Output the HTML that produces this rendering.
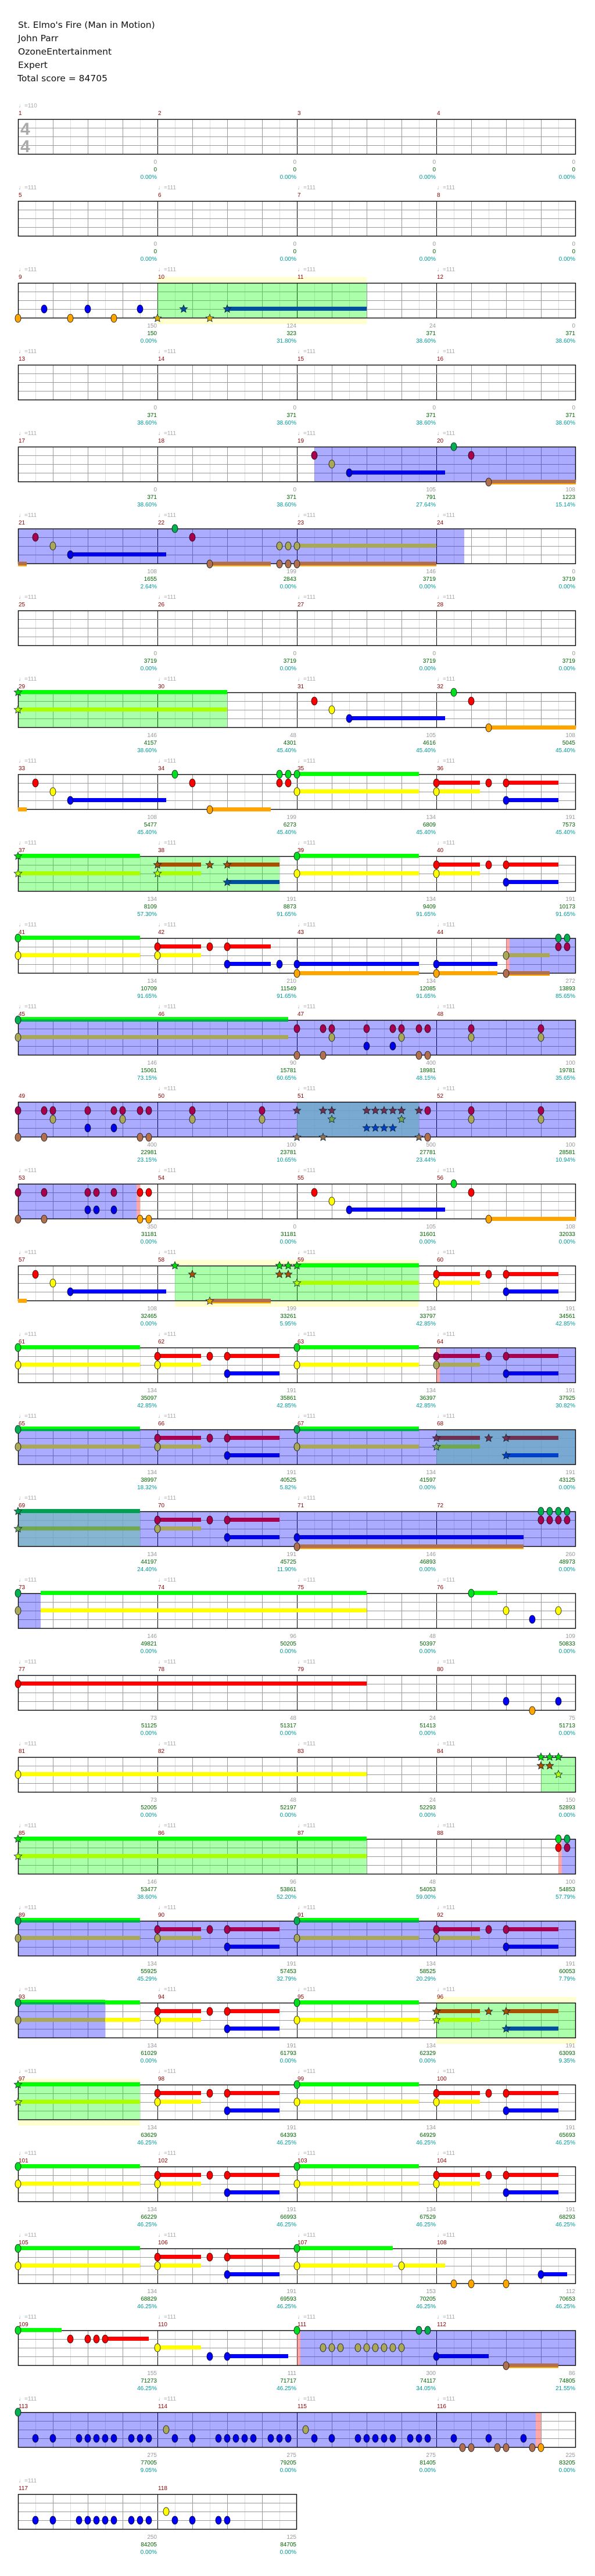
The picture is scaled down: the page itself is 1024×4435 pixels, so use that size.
<!DOCTYPE html>
<html><head><meta charset="utf-8">
<style>
html,body{margin:0;padding:0;background:#fff;}
body{width:1024px;height:4435px;overflow:hidden;}
svg{display:block;}
.h{font-family:"DejaVu Sans","Liberation Sans",sans-serif;font-size:15.5px;fill:#111;}
.t{font-family:"Liberation Sans",sans-serif;font-size:10px;fill:#aaa;}
.m{font-family:"Liberation Sans",sans-serif;font-size:10px;fill:#8b0000;}
.g{font-family:"Liberation Sans",sans-serif;font-size:10px;fill:#999;}
.s{font-family:"Liberation Sans",sans-serif;font-size:10px;fill:#006400;}
.p{font-family:"Liberation Sans",sans-serif;font-size:10px;fill:#009999;}
</style></head><body>
<svg id="sv" xmlns="http://www.w3.org/2000/svg" width="1024" height="4435" viewBox="0 0 1024 4435">
<text class="h" x="31" y="48">St. Elmo's Fire (Man in Motion)</text>
<text class="h" x="31" y="71">John Parr</text>
<text class="h" x="31" y="94">OzoneEntertainment</text>
<text class="h" x="31" y="117">Expert</text>
<text class="h" x="30" y="140">Total score = 84705</text>
</svg>
<script>
(function(){
var sv=document.getElementById('sv');
var out=[];
function X(u){return 31+u*15;}
var STATS="0,0,0.00%|0,0,0.00%|0,0,0.00%|0,0,0.00%|0,0,0.00%|0,0,0.00%|0,0,0.00%|0,0,0.00%|150,150,0.00%|124,323,31.80%|24,371,38.60%|0,371,38.60%|0,371,38.60%|0,371,38.60%|0,371,38.60%|0,371,38.60%|0,371,38.60%|0,371,38.60%|105,791,27.64%|108,1223,15.14%|108,1655,2.64%|199,2843,0.00%|146,3719,0.00%|0,3719,0.00%|0,3719,0.00%|0,3719,0.00%|0,3719,0.00%|0,3719,0.00%|146,4157,38.60%|48,4301,45.40%|105,4616,45.40%|108,5045,45.40%|108,5477,45.40%|199,6273,45.40%|134,6809,45.40%|191,7573,45.40%|134,8109,57.30%|191,8873,91.65%|134,9409,91.65%|191,10173,91.65%|134,10709,91.65%|210,11549,91.65%|134,12085,91.65%|272,13893,85.65%|146,15061,73.15%|90,15781,60.65%|400,18981,48.15%|100,19781,35.65%|400,22981,23.15%|100,23781,10.65%|500,27781,23.44%|100,28581,10.94%|350,31181,0.00%|0,31181,0.00%|105,31601,0.00%|108,32033,0.00%|108,32465,0.00%|199,33261,5.95%|134,33797,42.85%|191,34561,42.85%|134,35097,42.85%|191,35861,42.85%|134,36397,42.85%|191,37925,30.82%|134,38997,18.32%|191,40525,5.82%|134,41597,0.00%|191,43125,0.00%|134,44197,24.40%|191,45725,11.90%|146,46893,0.00%|260,48973,0.00%|146,49821,0.00%|96,50205,0.00%|48,50397,0.00%|109,50833,0.00%|73,51125,0.00%|48,51317,0.00%|24,51413,0.00%|75,51713,0.00%|73,52005,0.00%|48,52197,0.00%|24,52293,0.00%|150,52893,0.00%|146,53477,38.60%|96,53861,52.20%|48,54053,59.00%|100,54853,57.79%|134,55925,45.29%|191,57453,32.79%|134,58525,20.29%|191,60053,7.79%|134,61029,0.00%|191,61793,0.00%|134,62329,0.00%|191,63093,9.35%|134,63629,46.25%|191,64393,46.25%|134,64929,46.25%|191,65693,46.25%|134,66229,46.25%|191,66993,46.25%|134,67529,46.25%|191,68293,46.25%|134,68829,46.25%|191,69593,46.25%|153,70205,46.25%|112,70653,46.25%|155,71273,46.25%|111,71717,46.25%|300,74117,34.05%|86,74805,21.55%|275,77005,9.05%|275,79205,0.00%|275,81405,0.00%|225,83205,0.00%|250,84205,0.00%|125,84705,0.00%".split('|');
var A="R16-21 R22 R24-30 Y16-21 B24-30 ";
var Bq="G32-46 Y32-46 ";
var C="R48-53 R54 R56-62 Y48-53 B56-62";
var R=[
 {o:[],n:""},{o:[],n:""},
 {o:[['G',16,40,1]],n:"O0 B3 O6 B8 O11 B14 @s O16 B19 O22 B24-40"},
 {o:[],n:""},
 {o:[['P',34,64]],n:"@p R34 Y36 B38-49 G50 R52 O54-64"},
 {o:[['P',0,51.2]],n:"@p bO0-1 R2 Y4 B6-17 G18 R20 O22-29 Y30 Y31 Y32-48 O30 O31 O32-48"},
 {o:[],n:""},
 {o:[['G',0,24]],n:"@s G0-24 Y0-24 @n R34 Y36 B38-49 G50 R52 O54-64"},
 {o:[],n:"bO0-1 R2 Y4 B6-17 G18 R20 O22-29 G30 G31 G32-46 R30 R31 Y32-46 "+C},
 {o:[['G',0,30]],n:"@s G0-14 Y0-14 "+A+"@n "+Bq+C},
 {o:[['K',56,56.4],['P',56.4,64]],n:"G0-14 Y0-14 R16-21 R22 R24-29 Y16-21 B24-29 B30 B32-46 O32-46 B48-55 O48-55 @p Y56-61 O56-61 G62 G63 R62 R63"},
 {o:[['P',0,64]],n:"@p G0-31 Y0-31 R32 R35 R36 R40 R43 R44 R46 R47 R52 R60 Y36 Y44 Y52 Y60 B40 B43 O32 O35 O46 O47"},
 {o:[['P',0,64],['T',32,46]],n:"@p R0 R3 R4 R8 R11 R12 R14 R15 R20 R28 Y4 Y12 Y20 Y28 B8 B11 O0 O3 O14 O15 @t R32 R35 R36 R40 R41 R42 R43 R44 R46 Y36 Y44 B40 B41 B42 B43 O32 O35 O46 @p R47 R52 R60 Y52 Y60 O47"},
 {o:[['P',0,13.6],['K',13.6,14]],n:"@p R0 R3 R8 R9 R11 B8 B9 B11 O0 O3 @n R14 R15 O14 O15 R34 Y36 B38-49 G50 R52 O54-64"},
 {o:[['G',18,46,1]],n:"bO0-1 R2 Y4 B6-17 @s G18 R20 O22-29 G30 G31 G32-46 R30 R31 Y32-46 @n "+C},
 {o:[['K',48,48.4],['P',48.4,64]],n:"G0-14 Y0-14 "+A+Bq+"@p "+C},
 {o:[['P',0,64],['T',48,64]],n:"@p G0-14 Y0-14 "+A+Bq+"@t "+C},
 {o:[['T',0,14],['P',14,64]],n:"@t G0-14 Y0-14 @p "+A+"B32-58 O32-58 G60 G61 G62 G63 R60 R61 R62 R63"},
 {o:[['P',0,2.6]],n:"@n bG2.6-40 bY2.6-40 @p G0 Y0 @n G52-55 Y56 Y62 B59"},
 {o:[],n:"R0-40 B56 B62 O59"},
 {o:[['G',60,64]],n:"Y0-40 @s G60 G61 G62 R60 R61 Y62"},
 {o:[['G',0,40],['K',62,62.4],['P',62.4,64]],n:"@s G0-40 Y0-40 @n G62 R62 @p G63 R63"},
 {o:[['P',0,64]],n:"@p G0-14 Y0-14 "+A+Bq+C},
 {o:[['P',0,10],['G',48,64,1]],n:"@n bG10-14 bY10-14 @p G0-10 Y0-10 @n "+A+Bq+"@s "+C},
 {o:[['G',0,14,1]],n:"@s G0-14 Y0-14 @n "+A+Bq+C},
 {o:[],n:"G0-14 Y0-14 "+A+Bq+C},
 {o:[],n:"G0-14 Y0-14 "+A+"G32-43 Y32-43 Y44-49 O50 O52 O56 B60-63"},
 {o:[['K',32,32.4],['P',32.4,64]],n:"G0-5 R6 R8 R9 R10-15 Y16-21 B22 B24-31 G32 @p Y35 Y36 Y37 Y39 Y40 Y41 Y42 Y43 Y44 G46 G47 B48-54 O56-62"},
 {o:[['P',0,59.4],['K',59.4,60]],n:"@p G0 B2 B4 B7 B8 B9 B10 B11 B13 B14 B15 Y17 B18 B20 B23 B24 B25 B26 B27 B29 B30 B31 Y33 B34 B36 B39 B40 B41 B42 B43 B45 B46 B47 B50 B54 B58 O51 O52 O55 O56 O59 @n O60"},
 {o:[],n:"B2 B4 B7 B8 B9 B10 B11 B13 B14 B15 Y17 B18 B20 B23 B24",w:32}
];
var PAL={
 n:{G:'#00e020',R:'#ff0000',Y:'#ffff00',B:'#0000ff',O:'#ffa500'},
 p:{G:'#00b050',R:'#a8004f',Y:'#a8a858',B:'#0000e8',O:'#b07050'},
 s:{G:'#00e000',R:'#a85000',Y:'#aaff00',B:'#0050a0',O:'#e0b000'},
 t:{G:'#00a050',R:'#703050',Y:'#70a850',B:'#0040c8',O:'#907050'}
};
var BARN={G:'#00ff00',R:'#ff0000',Y:'#ffff00',B:'#0000ff',O:'#ffa500'};
var SI={G:0,R:1,Y:2,B:3,O:4};
function star(cx,cy,r,fill){
 var p=[];for(var k=0;k<10;k++){var a=-Math.PI/2+k*Math.PI/5;var rr=k%2?r*0.45:r;p.push((cx+rr*Math.cos(a)).toFixed(1)+','+(cy+rr*Math.sin(a)).toFixed(1));}
 return '<polygon points="'+p.join(' ')+'" fill="'+fill+'" stroke="#123" stroke-width="0.8"/>';
}
for(var i=0;i<R.length;i++){
 var row=R[i],T=205+141*i,W=(row.w||64),x1=X(W);
 var nm=(row.w?2:4);
 row.o.forEach(function(o){if(o[3])out.push('<rect x="'+X(o[1])+'" y="'+(T-10)+'" width="'+((o[2]-o[1])*15)+'" height="81" fill="#ffffd0"/>');});
 out.push('<rect x="31" y="'+T+'" width="'+(x1-31)+'" height="61" fill="#fff"/>');
 for(var u=2;u<W;u+=2){
  var c=(u%16==0)?'#000':(u%4==0?'#999':'#ddd');
  out.push('<line x1="'+(X(u)+0.5)+'" y1="'+T+'" x2="'+(X(u)+0.5)+'" y2="'+(T+61)+'" stroke="'+c+'" stroke-width="1"/>');
 }
 for(var s=1;s<4;s++){var yy=T+s*15+0.5;out.push('<line x1="31" y1="'+yy+'" x2="'+x1+'" y2="'+yy+'" stroke="#999" stroke-width="1"/>');}
 row.o.forEach(function(o){
  var f={G:'rgba(0,255,0,0.33)',P:'rgba(0,0,255,0.33)',T:'rgba(112,168,200,0.85)',K:'rgba(255,80,80,0.5)'}[o[0]];
  out.push('<rect x="'+X(o[1])+'" y="'+T+'" width="'+((o[2]-o[1])*15)+'" height="61" fill="'+f+'"/>');
 });
 out.push('<rect x="31.5" y="'+(T+0.5)+'" width="'+(x1-32)+'" height="60" fill="none" stroke="#000" stroke-width="1.4"/>');
 for(var j=0;j<nm;j++){
  var mn=i*4+j+1,mx=X(j*16);
  var noT=(i==0&&j>0)||mn==49||mn==72||mn==118;
  if(!noT)out.push('<text class="t" x="'+(mx+1)+'" y="'+(T-20)+'">\u2669='+(i==0?110:111)+'</text>');
  out.push('<text class="m" x="'+(mx+1)+'" y="'+(T-7)+'">'+mn+'</text>');
  var st=STATS[mn-1].split(','),ex=X(j*16+16)-1;
  out.push('<text class="g" text-anchor="end" x="'+ex+'" y="'+(T+77)+'">'+st[0]+'</text>');
  out.push('<text class="s" text-anchor="end" x="'+ex+'" y="'+(T+90)+'">'+st[1]+'</text>');
  out.push('<text class="p" text-anchor="end" x="'+ex+'" y="'+(T+103)+'">'+st[2]+'</text>');
 }
 if(i==0){
  out.push('<text x="35" y="232" font-family="Liberation Sans,sans-serif" font-size="30" font-weight="bold" fill="#aaa">4</text>');
  out.push('<text x="35" y="262" font-family="Liberation Sans,sans-serif" font-size="30" font-weight="bold" fill="#aaa">4</text>');
 }
 var sty='n',bars=[],notes=[];
 row.n.split(/\s+/).forEach(function(tk){
  if(!tk)return;
  if(tk[0]=='@'){sty=tk[1];return;}
  var barOnly=false;if(tk[0]=='b'){barOnly=true;tk=tk.slice(1);}
  var L=tk[0],rest=tk.slice(1).split('-'),u0=parseFloat(rest[0]),u1=rest[1]?parseFloat(rest[1]):null;
  var y=T+SI[L]*15+(SI[L]==4?1:0);
  if(u1!==null){
   var bx=X(u0),bw=(u1-u0)*15,col;
   if(sty=='n')col=BARN[L];else col=PAL[sty][L];
   if(sty=='s'&&L=='G')col='#00ff00';
   if(sty=='p'&&L=='G'){bars.push('<rect x="'+bx+'" y="'+(y-5)+'" width="'+bw+'" height="4" fill="#00ff00"/><rect x="'+bx+'" y="'+(y-1)+'" width="'+bw+'" height="4" fill="#00b050"/>');}
   else if(sty!='n'&&L=='O'){bars.push('<rect x="'+bx+'" y="'+(y-4)+'" width="'+bw+'" height="6" fill="#b07050"/><rect x="'+bx+'" y="'+(y+2)+'" width="'+bw+'" height="2" fill="#ffa500"/>');}
   else bars.push('<rect x="'+bx+'" y="'+(y-4)+'" width="'+bw+'" height="7" fill="'+col+'"/>');
  }
  if(!barOnly){
   var fc=PAL[sty][L],cx=X(u0);
   if(sty=='s'||sty=='t')notes.push(star(cx,y,7,fc));
   else notes.push('<ellipse cx="'+cx+'" cy="'+y+'" rx="5" ry="7" fill="'+fc+'" stroke="#111" stroke-width="0.8"/>');
  }
 });
 out.push(bars.join(''));out.push(notes.join(''));
}
sv.insertAdjacentHTML('beforeend',out.join(''));
})();
</script>
</body></html>
